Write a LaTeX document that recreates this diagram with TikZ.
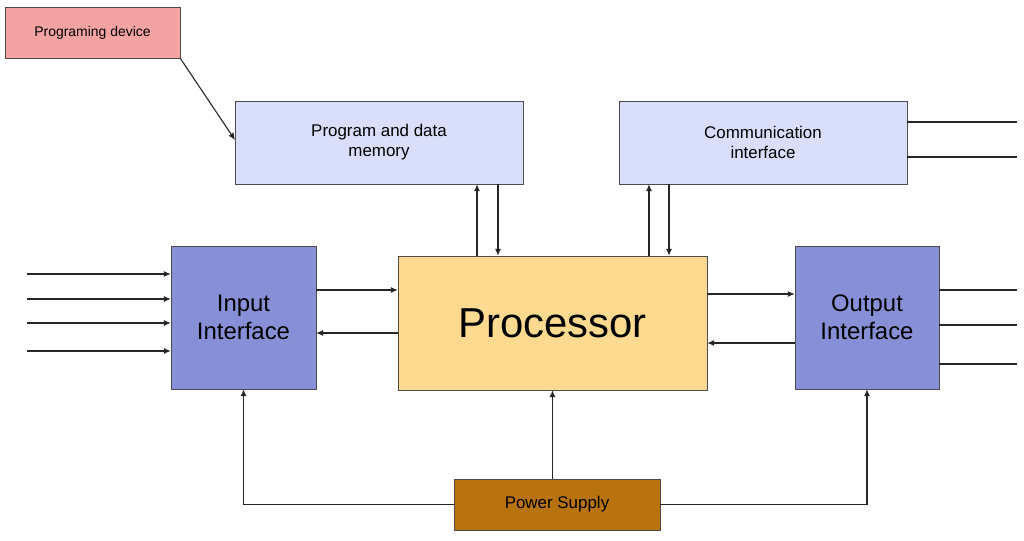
\documentclass[tikz,border=0pt]{standalone}
\usepackage{fontspec}
\setmainfont{Liberation Sans}
\usetikzlibrary{arrows.meta}
\definecolor{pinkfill}{HTML}{F4A3A3}
\definecolor{memfill}{HTML}{D9DEFB}
\definecolor{iofill}{HTML}{8790D6}
\definecolor{procfill}{HTML}{FDDA90}
\definecolor{pwrfill}{HTML}{B8720E}
\tikzset{
  blk/.style={draw=black!70,inner sep=0pt,align=center},
  wire/.style={line width=1.1pt,black!85},
  arr/.style={wire,-{Latex[length=7bp,width=6bp]}}
}
\begin{document}
\begin{tikzpicture}[x=1bp,y=1bp]
  \useasboundingbox (0,0) rectangle (1024,541);
  %%
  \node (Prog) at (92.5,508.5) [blk,fill=pinkfill,minimum width=175bp,minimum height=51bp,font=\fontsize{14}{16}\selectfont] {Programing device};
  \node (Mem) at (379,398.5) [blk,fill=memfill,minimum width=288bp,minimum height=83bp,font=\fontsize{17}{20}\selectfont] {Program and data\\memory};
  \node (Comm) at (763,398.5) [blk,fill=memfill,minimum width=288bp,minimum height=83bp,font=\fontsize{17}{20}\selectfont] {Communication\\interface};
  \node (In) at (243.5,223.5) [blk,fill=iofill,minimum width=145bp,minimum height=143bp,font=\fontsize{24}{28}\selectfont] {Input\\Interface};
  \node (Proc) at (552.5,218) [blk,fill=procfill,minimum width=309bp,minimum height=134bp,font=\fontsize{42}{48}\selectfont] {Processor};
  \node (Out) at (867,223.5) [blk,fill=iofill,minimum width=144bp,minimum height=143bp,font=\fontsize{24}{28}\selectfont] {Output\\Interface};
  \node (Pwr) at (557,36.5) [blk,fill=pwrfill,minimum width=206bp,minimum height=51bp,font=\fontsize{17}{20}\selectfont] {Power Supply};
  %%
  \coordinate (m1) at (477,0);
  \coordinate (m2) at (498,0);
  \coordinate (c1) at (649,0);
  \coordinate (c2) at (669,0);
  \coordinate (h1) at (0,251);
  \coordinate (h2) at (0,208);
  \coordinate (h3) at (0,247);
  \coordinate (h4) at (0,198);
  \coordinate (memin) at (235,401);
  \draw [arr] (Prog.south east) -- (memin);
  \draw [arr] (Proc.north -| m1) -- (Mem.south -| m1);
  \draw [arr] (Mem.south -| m2) -- (Proc.north -| m2);
  \draw [arr] (Proc.north -| c1) -- (Comm.south -| c1);
  \draw [arr] (Comm.south -| c2) -- (Proc.north -| c2);
  \draw [arr] (In.east |- h1) -- (Proc.west |- h1);
  \draw [arr] (Proc.west |- h2) -- (In.east |- h2);
  \draw [arr] (Proc.east |- h3) -- (Out.west |- h3);
  \draw [arr] (Out.west |- h4) -- (Proc.east |- h4);
  %% free lines
  \foreach \y [count=\i] in {267,242,218,190} {
    \coordinate (inl\i) at (27,\y);
    \draw [arr] (inl\i) -- (In.west |- inl\i);
  }
  \foreach \y [count=\i] in {251,216,177} {
    \coordinate (outr\i) at (1017,\y);
    \draw [wire] (Out.east |- outr\i) -- (outr\i);
  }
  \foreach \y [count=\i] in {419,384} {
    \coordinate (comr\i) at (1017,\y);
    \draw [wire] (Comm.east |- comr\i) -- (comr\i);
  }
  %% power
  \draw [arr] (Pwr.west) -| (In.south);
  \draw [arr] (Pwr.north -| Proc.south) -- (Proc.south);
  \draw [arr] (Pwr.east) -| (Out.south);
  %
\end{tikzpicture}
\end{document}
